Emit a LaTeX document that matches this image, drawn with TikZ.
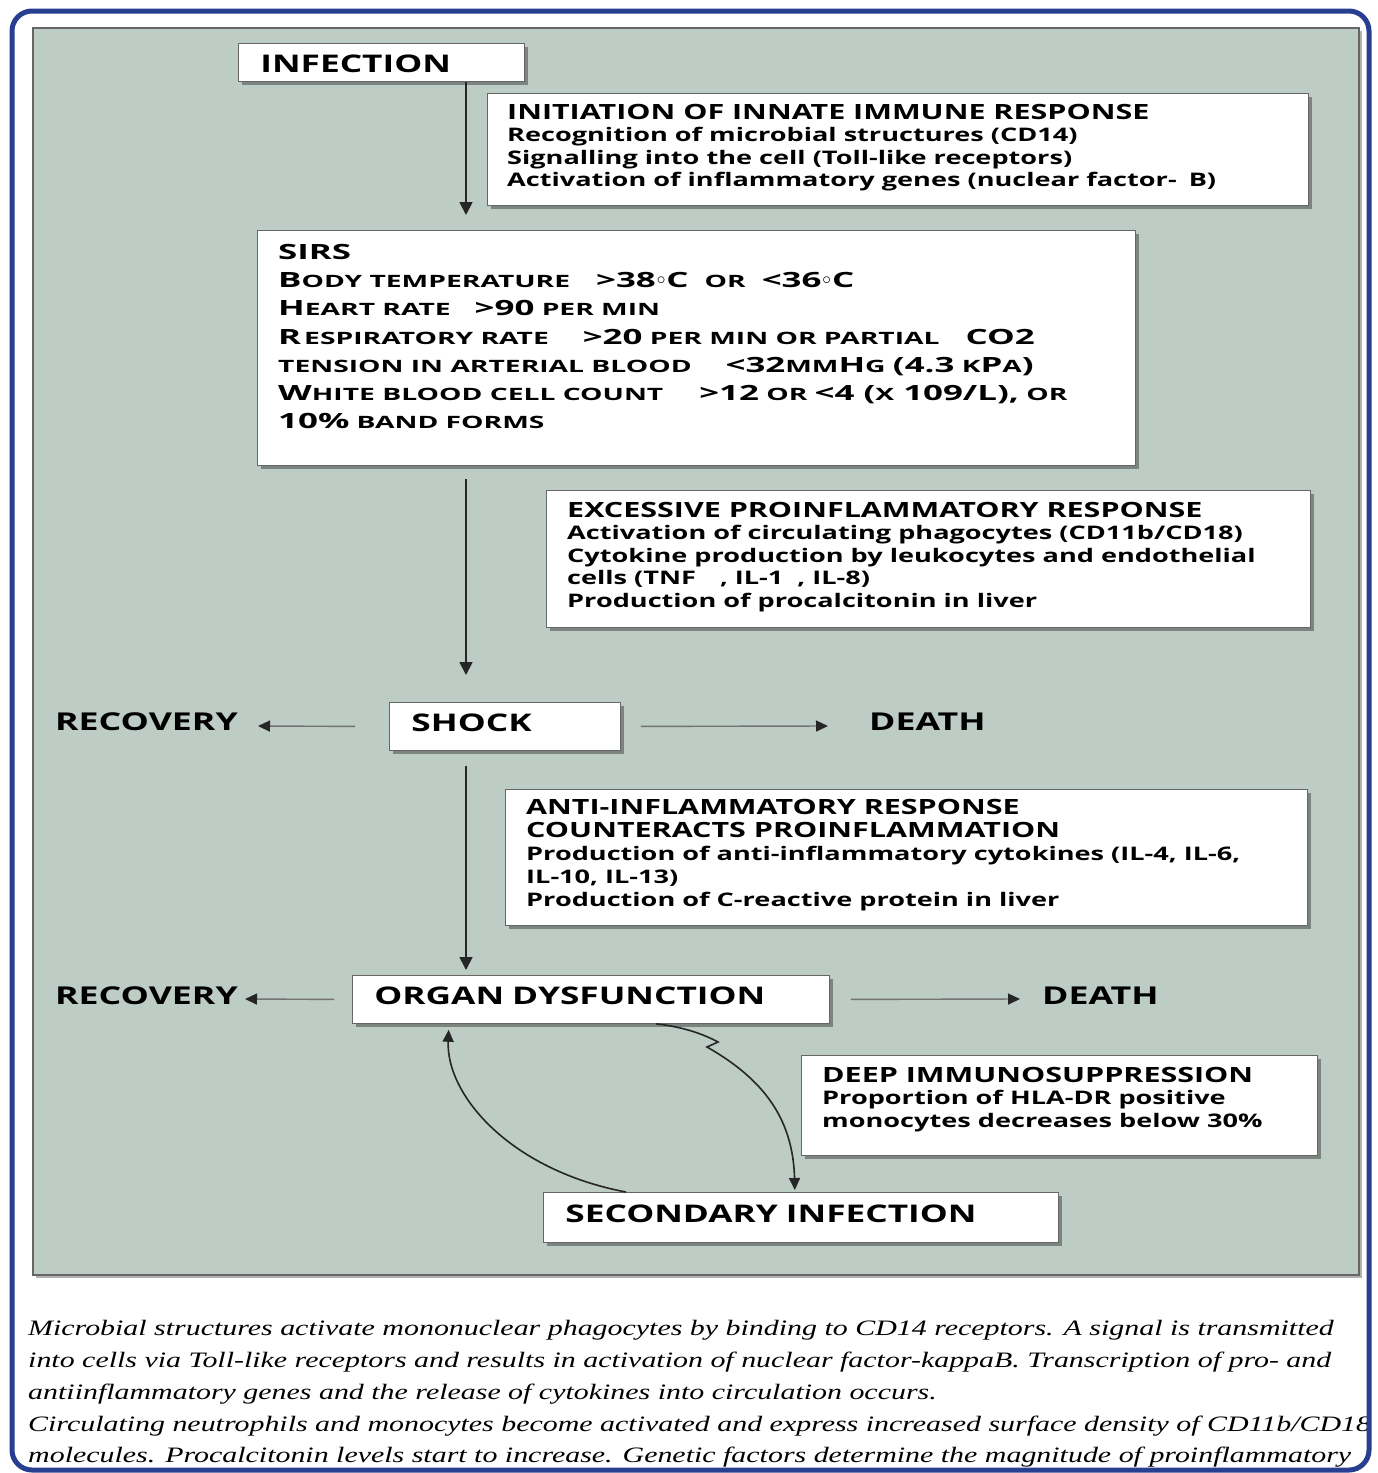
\documentclass[tikz,border=0pt]{standalone}
\usepackage{fontspec}
\usetikzlibrary{arrows.meta,shadows}
\newfontfamily\dgfont[FakeStretch=1.45]{Open Sans}
\newfontfamily\sirsfont[FakeStretch=1.66]{Open Sans}
\newfontfamily\capfont[FakeStretch=1.36]{Liberation Serif}
\definecolor{panel}{RGB}{189,204,196}
\definecolor{frameblue}{RGB}{40,62,145}
\newcommand\BigT[1]{{\fontsize{21}{28.2}\selectfont #1}}
\newcommand\SmT[1]{{\fontsize{17}{28.2}\selectfont #1}}
\newcommand\TitT[1]{{\fontsize{21}{23}\selectfont #1}}
\newcommand\degc{\hspace{1pt}\raisebox{3pt}{\fontsize{16}{16}\selectfont$\circ$}\hspace{1pt}}
\begin{document}
\begin{tikzpicture}[x=1pt,y=-1pt,
  box/.style={draw=black!60, line width=0.8pt, fill=white, rectangle, anchor=north west,
    drop shadow={shadow xshift=4pt, shadow yshift=-4pt, opacity=0.35, fill=black}},
  lbox/.style={box, inner xsep=22pt, inner ysep=0pt, align=left, text height=17pt, text depth=6pt,
    font=\dgfont\bfseries\fontsize{24.3}{28}\selectfont, text=black},
  body/.style={anchor=north west, inner sep=0pt, align=left,
    font=\dgfont\bfseries\fontsize{18.7}{22.5}\selectfont, text=black},
  lab/.style={anchor=west, inner sep=0pt, font=\dgfont\bfseries\fontsize{24.6}{28}\selectfont, text=black},
  varr/.style={draw=black!85, line width=1.8pt, -{Triangle[width=13pt,length=13pt]}},
  harr/.style={draw=black!55, line width=1.4pt, -{Triangle[width=11pt,length=12pt,color=black!85]}},
  carr/.style={draw=black!85, line width=1.6pt, -{Triangle[width=11pt,length=12pt]}},
  captxt/.style={anchor=base west, inner sep=0pt, font=\capfont\itshape\fontsize{22}{32}\selectfont, text=black}
]
\useasboundingbox (0,0) rectangle (1378,1473);
\fill[white] (0,0) rectangle (1378,1473);

% panel
\node[draw=black!60, line width=2pt, fill=panel, rectangle, anchor=north west, inner sep=0pt,
  minimum width=1326pt, minimum height=1247pt,
  drop shadow={shadow xshift=3pt, shadow yshift=-3pt, opacity=0.3, fill=black}] (panelbox) at (32,27) {};

% boxes
\node[lbox, minimum width=286pt, minimum height=38pt, text width=242pt, text height=21pt, text depth=0pt] (infection) at (238,43) {INFECTION};
\node[box, minimum width=821pt, minimum height=112pt, inner sep=0pt] (init) at (487,93) {};
\node[box, minimum width=878pt, minimum height=235pt, inner sep=0pt] (sirs) at (257,230) {};
\node[box, minimum width=764pt, minimum height=137pt, inner sep=0pt] (excess) at (546,490) {};
\node[lbox, minimum width=231pt, minimum height=48pt, text width=187pt, text height=17pt, text depth=7pt] (shock) at (389,702) {SHOCK};
\node[box, minimum width=802pt, minimum height=136pt, inner sep=0pt] (anti) at (505,789) {};
\node[lbox, minimum width=477pt, minimum height=48pt, text width=433pt] (organ) at (352,975) {ORGAN DYSFUNCTION};
\node[box, minimum width=516pt, minimum height=100pt, inner sep=0pt] (deep) at (801,1055) {};
\node[lbox, minimum width=515pt, minimum height=50pt, text width=471pt] (secondary) at (543,1192) {SECONDARY INFECTION};

% box texts
\node[body] (initT) at (507,104) {\TitT{INITIATION OF INNATE IMMUNE RESPONSE}\\
Recognition of microbial structures (CD14)\\
Signalling into the cell (Toll-like receptors)\\
Activation of inflammatory genes (nuclear factor-\hspace{12pt}B)};

\node[body, font=\sirsfont\bfseries\fontsize{17}{28.2}\selectfont] (sirsT) at (278,244) {\BigT{SIRS}\\
\BigT{B}\SmT{ODY TEMPERATURE}\hspace{26pt}\BigT{>38\degc C}\hspace{16pt}\SmT{OR}\hspace{16pt}\BigT{<36\degc C}\\
\BigT{H}\SmT{EART RATE}\hspace{24pt}\BigT{>90} \SmT{PER MIN}\\
\BigT{R}\hspace{3pt}\SmT{ESPIRATORY RATE}\hspace{34pt}\BigT{>20} \SmT{PER MIN OR PARTIAL}\hspace{26pt}\BigT{CO2}\\
\SmT{TENSION IN ARTERIAL BLOOD}\hspace{34pt}\BigT{<32}\SmT{MM}\BigT{H}\SmT{G} \BigT{(4.3} \SmT{K}\BigT{P}\SmT{A}\BigT{)}\\
\BigT{W}\SmT{HITE BLOOD CELL COUNT}\hspace{36pt}\BigT{>12} \SmT{OR} \BigT{<4 (}\SmT{X}\BigT{ 109/L),} \SmT{OR}\\
\BigT{10\%} \SmT{BAND FORMS}};

\node[body] (excessT) at (567,502) {\TitT{EXCESSIVE PROINFLAMMATORY RESPONSE}\\
Activation of circulating phagocytes (CD11b/CD18)\\
Cytokine production by leukocytes and endothelial\\
cells (TNF\hspace{24pt}, IL-1\hspace{14pt}, IL-8)\\
Production of procalcitonin in liver};

\node[body, font=\dgfont\bfseries\fontsize{18.7}{23}\selectfont] (antiT) at (526,799) {\TitT{ANTI-INFLAMMATORY RESPONSE}\\
\TitT{COUNTERACTS PROINFLAMMATION}\\
Production of anti-inflammatory cytokines (IL-4, IL-6,\\
IL-10, IL-13)\\
Production of C-reactive protein in liver};

\node[body] (deepT) at (822,1067) {\TitT{DEEP IMMUNOSUPPRESSION}\\
Proportion of HLA-DR positive\\
monocytes decreases below 30\%};

% side labels
\node[lab] (rec1) at (55,722) {RECOVERY};
\node[lab] (death1) at (869,722) {DEATH};
\node[lab] (rec2) at (55,996) {RECOVERY};
\node[lab] (death2) at (1042,996) {DEATH};

% vertical arrows
\coordinate (vx) at (466,0);
\draw[varr, shorten >=15pt] (vx |- infection.south) -- (vx |- sirs.north);
\draw[varr, shorten <=13pt, shorten >=27pt] (vx |- sirs.south) -- (vx |- shock.north);
\draw[varr, shorten <=15pt, shorten >=5pt] (vx |- shock.south) -- (vx |- organ.north);

% horizontal arrows
\coordinate (r1tip) at (258,726);
\coordinate (d1tip) at (828,726);
\coordinate (r2tip) at (245,999);
\coordinate (d2tip) at (1020,999);
\draw[harr] ([xshift=-34pt]shock.west) -- (r1tip);
\draw[harr] ([xshift=20pt]shock.east) -- (d1tip);
\draw[harr] ([xshift=-18pt]organ.west) -- (r2tip);
\draw[harr] ([xshift=21pt]organ.east) -- (d2tip);

% loop arrows
\coordinate (k1) at (718,1042);
\coordinate (k2) at (707,1047);
\draw[carr, shorten >=2pt] ([xshift=65pt]organ.south) .. controls (685,1027) and (705,1035) .. (k1) -- (k2)
  .. controls (765,1080) and (793,1120) .. ([xshift=-6pt]secondary.north);
\draw[carr, shorten >=6pt] ([xshift=-175pt]secondary.north) .. controls (510,1170) and (446,1095) .. ([xshift=-142pt]organ.south);

% caption
\node[captxt] (cap1) at (28,1335) {Microbial structures activate mononuclear phagocytes by binding to CD14 receptors. A signal is transmitted};
\node[captxt] (cap2) at (28,1367) {into cells via Toll-like receptors and results in activation of nuclear factor-kappaB. Transcription of pro- and};
\node[captxt] (cap3) at (28,1399) {antiinflammatory genes and the release of cytokines into circulation occurs.};
\node[captxt] (cap4) at (28,1431) {Circulating neutrophils and monocytes become activated and express increased surface density of CD11b/CD18};
\node[captxt] (cap5) at (28,1462) {molecules. Procalcitonin levels start to increase. Genetic factors determine the magnitude of proinflammatory};

% outer frame
\draw[frameblue, line width=5pt, rounded corners=20pt] (12,11) rectangle (1369,1470);
\end{tikzpicture}
\end{document}
